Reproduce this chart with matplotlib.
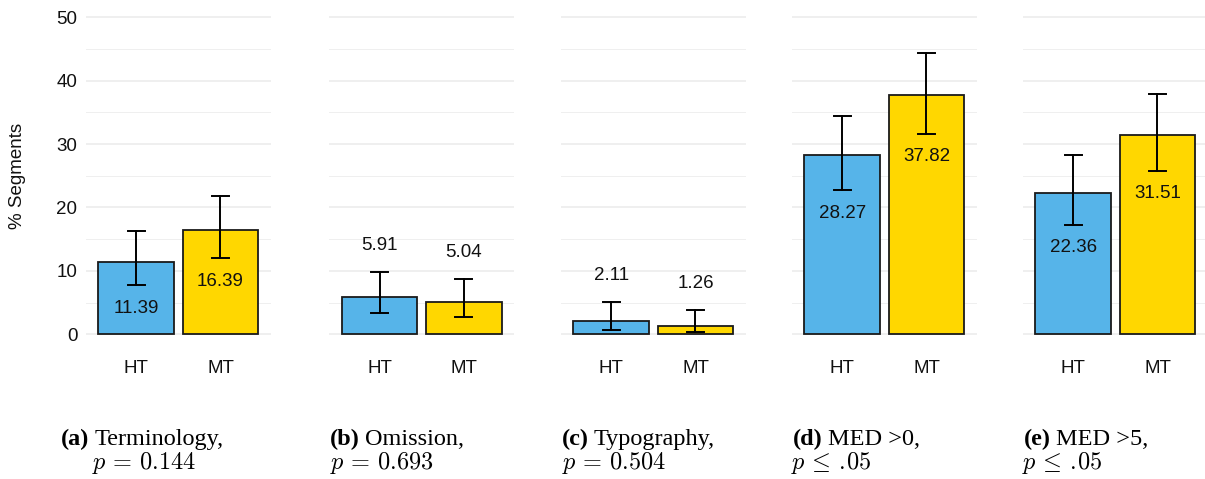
import matplotlib
matplotlib.use("Agg")
import matplotlib.pyplot as plt

# per-panel bar heights (% of segments) and 95% CI bounds
categories = ["HT", "MT"]
panel_tags = ["(a)", "(b)", "(c)", "(d)", "(e)"]
panel_names = ["Terminology,", "Omission,", "Typography,", "MED >0,", "MED >5,"]
p_texts = [r"$p\,=\,0.144$", r"$p\,=\,0.693$", r"$p\,=\,0.504$",
           r"$p\,\leq\,.\!05$", r"$p\,\leq\,.\!05$"]

ht_vals = [11.39, 5.91, 2.11, 28.27, 22.36]
mt_vals = [16.39, 5.04, 1.26, 37.82, 31.51]
ht_lo = [7.7, 3.3, 0.7, 22.7, 17.3]
ht_hi = [16.3, 9.9, 5.1, 34.5, 28.3]
mt_lo = [12.0, 2.7, 0.3, 31.6, 25.8]
mt_hi = [21.8, 8.8, 3.9, 44.3, 37.9]
label_inside = [True, False, False, True, True]

colors = ["#56B4E9", "#FFD700"]

plt.rcParams["font.family"] = "Liberation Sans"
plt.rcParams["mathtext.fontset"] = "cm"

W, H = 1205, 479
fig = plt.figure(figsize=(W / 100, H / 100), dpi=100)

ax_left = [85.7, 329.0, 560.7, 791.7, 1022.7]
ax_w = 185.3
ax_top, ax_bot = 1.45, 350.15
fs = 13.5

for i in range(5):
    ax = fig.add_axes([ax_left[i] / W, 1 - ax_bot / H, ax_w / W, (ax_bot - ax_top) / H])
    ax.set_xlim(0.4, 2.6)
    ax.set_ylim(-2.5, 52.5)
    for y in range(0, 51, 10):
        ax.axhline(y, color="#EBEBEB", lw=1.1, zorder=0)
    for y in range(5, 50, 10):
        ax.axhline(y, color="#EFEFEF", lw=0.7, zorder=0)

    vals = [ht_vals[i], mt_vals[i]]
    lo = [ht_lo[i], mt_lo[i]]
    hi = [ht_hi[i], mt_hi[i]]
    xs = [1, 2]
    ax.bar(xs, vals, width=0.9, color=colors, edgecolor="#1a1a1a", linewidth=1.3, zorder=2)
    for x, v, l, h in zip(xs, vals, lo, hi):
        ax.plot([x, x], [l, h], color="black", lw=1.4, zorder=3)
        for yy in (l, h):
            ax.plot([x - 0.1, x + 0.1], [yy, yy], color="black", lw=1.4, zorder=3)
        if label_inside[i]:
            ty = l - 3.6
        else:
            ty = h + 4.1
        ax.text(x, ty, f"{v:.2f}", ha="center", va="center", fontsize=fs, color="#111111", zorder=4)

    ax.set_xticks(xs)
    ax.set_xticklabels(categories, fontsize=fs, color="#111111")
    ax.tick_params(axis="x", length=0, pad=7)
    if i == 0:
        ax.set_yticks(range(0, 51, 10))
        ax.tick_params(axis="y", length=0, pad=6, labelsize=fs, labelcolor="#111111")
    else:
        ax.set_yticks([])
    for s in ax.spines.values():
        s.set_visible(False)

fig.text(18 / W, 1 - 176 / H, "% Segments", rotation=90, ha="center", va="center",
         fontsize=fs, color="#111111")

# subfigure captions underneath
cap_x = [61, 330, 562, 793, 1024]
p_x = [92, 330, 562, 791, 1022]
cap_fs = 17.5
renderer = fig.canvas.get_renderer()
for i in range(5):
    tag = fig.text(cap_x[i] / W, 1 - 445 / H, panel_tags[i], fontsize=cap_fs,
                   family="Liberation Serif", weight="bold", va="baseline")
    bb = tag.get_window_extent(renderer)
    fig.text((bb.x1 + 5) / W, 1 - 445 / H, panel_names[i], fontsize=cap_fs,
             family="Liberation Serif", va="baseline")
    fig.text(p_x[i] / W, 1 - 469 / H, p_texts[i], fontsize=cap_fs, va="baseline")

fig.savefig("out.png", dpi=100)
